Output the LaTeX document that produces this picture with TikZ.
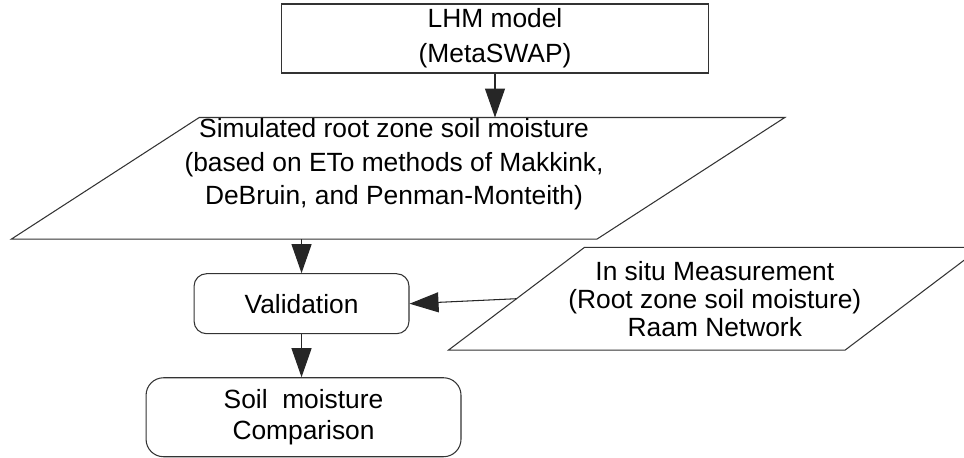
\documentclass[tikz,border=0pt]{standalone}
\usepackage{fontspec}
\setmainfont{Liberation Sans}
\usetikzlibrary{arrows.meta,positioning,calc}

\begin{document}
\begin{tikzpicture}[
    x=0.02cm, y=-0.02cm,
    font=\fontsize{15}{19}\selectfont,
    process/.style={draw=black!80, line width=0.6pt, rectangle, align=center, inner sep=0pt},
    terminal/.style={draw=black!80, line width=0.6pt, rectangle, align=center, inner sep=0pt},
    datashape/.style={rectangle, inner sep=0pt, align=center},
    para/.style={draw=black!80, line width=0.6pt},
    arrow/.style={-{Triangle[length=0.58cm,width=0.4cm]}, line width=0.6pt, black!85}
]
\useasboundingbox (0,0) rectangle (964,457);

    % Model
    \node [process, minimum width=8.56cm, minimum height=1.38cm, font=\fontsize{15}{20}\selectfont] (lhm) at (495,38.5) {LHM model\\(MetaSWAP)};

    % Simulated output
    \node [datashape, minimum width=11.7cm, minimum height=2.42cm, below=0.88cm of lhm, xshift=-1.94cm] (sim) {};
    \node [align=center] (sim_txt) at ([xshift=-0.08cm, yshift=0.28cm]sim.center) {Simulated root zone soil moisture\\(based on ETo methods of Makkink,\\DeBruin, and Penman-Monteith)};

    % Validation and comparison
    \node [terminal, rounded corners=0.25cm, minimum width=4.3cm, minimum height=1.2cm, below=0.68cm of sim, xshift=-1.93cm] (valid) {Validation};
    \node [terminal, rounded corners=0.35cm, minimum width=6.3cm, minimum height=1.58cm, below=0.86cm of valid, xshift=0.04cm, font=\fontsize{15}{17.6}\selectfont] (soil) {Soil\ \ moisture\\Comparison};

    % Measurements
    \node [datashape, minimum width=7.92cm, minimum height=2.04cm, right=2.14cm of valid, yshift=0.1cm, font=\fontsize{15}{16}\selectfont] (insitu) {In situ Measurement\\(Root zone soil moisture)\\Raam Network};

    % Parallelogram outlines
    \draw [para] ([xshift=1.88cm]sim.north west) -- ([xshift=1.88cm]sim.north east) -- ([xshift=-1.88cm]sim.south east) -- ([xshift=-1.88cm]sim.south west) -- cycle;
    \draw [para] ([xshift=1.36cm]insitu.north west) -- ([xshift=1.36cm]insitu.north east) -- ([xshift=-1.36cm]insitu.south east) -- ([xshift=-1.36cm]insitu.south west) -- cycle;

    % Connections
    \draw [arrow] (lhm.south) -- (lhm.south |- sim.north);
    \draw [arrow] (valid.north |- sim.south) -- (valid.north);
    \draw [arrow] (valid.south) -- (valid.south |- soil.north);
    \draw [arrow] (insitu.west) -- (valid.east);

\end{tikzpicture}
\end{document}
